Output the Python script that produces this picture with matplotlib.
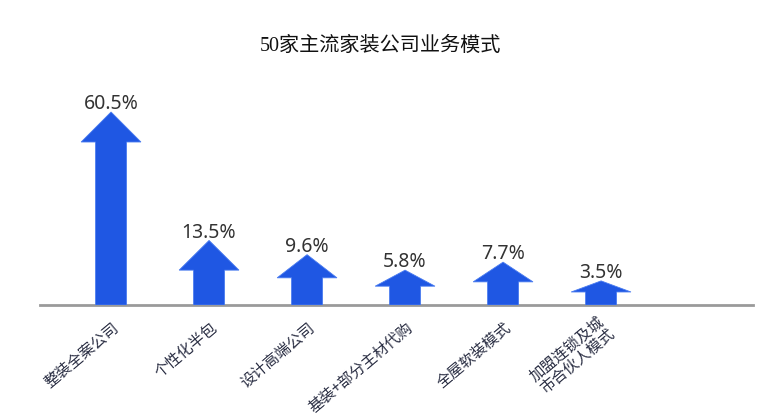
import numpy as np
import matplotlib
matplotlib.use("Agg")
import matplotlib.pyplot as plt
from matplotlib.patches import Polygon
import matplotlib.transforms as mtransforms

categories = ["整装全案公司", "个性化半包", "设计高端公司", "基装+部分主材代购", "全屋软装模式", "加盟连锁及城\n市合伙人模式"]
values = [60.5, 13.5, 9.6, 5.8, 7.7, 3.5]
value_labels = ["60.5%", "13.5%", "9.6%", "5.8%", "7.7%", "3.5%"]
title = "50家主流家装公司业务模式"

P = 0.73  # power scale exponent
fwd = lambda y: np.sign(y) * np.abs(y) ** P
inv = lambda t: np.sign(t) * np.abs(t) ** (1.0 / P)

fig = plt.figure(figsize=(7.68, 4.2), dpi=100)
fig.patch.set_facecolor("white")
ax_left, ax_right = 40 / 768, 753 / 768
ax_bottom, ax_top = 1 - 305 / 420, 1 - 100 / 420
ax = fig.add_axes([ax_left, ax_bottom, ax_right - ax_left, ax_top - ax_bottom])
ax.set_yscale("function", functions=(fwd, inv))

x = np.arange(len(values))
ax.set_xlim(-0.725, 6.55)
T = fwd(values[0]) * (205 / 193)
ax.set_ylim(0, inv(T))

axes_px = 205.0
shaft_w = 0.316
head_w = 0.61
blue = "#1f57e3"
for xi, v, lab in zip(x, values, value_labels):
    t_top = fwd(v)
    head_t = min(30 / axes_px * T, 0.46 * t_top)
    y_base = inv(t_top - head_t)
    verts = [
        (xi - shaft_w / 2, 0), (xi - shaft_w / 2, y_base), (xi - head_w / 2, y_base),
        (xi, v), (xi + head_w / 2, y_base), (xi + shaft_w / 2, y_base),
        (xi + shaft_w / 2, 0),
    ]
    ax.add_patch(Polygon(verts, closed=True, facecolor=blue, edgecolor="#4a7cf0",
                         linewidth=0.6, zorder=3))
    ax.annotate(lab, (xi, v), xytext=(0, 2), textcoords="offset points",
                ha="center", va="baseline", fontsize=14, color="#333333",
                family=["Noto Sans", "DejaVu Sans"], zorder=4)

for s in ["top", "right", "left"]:
    ax.spines[s].set_visible(False)
ax.spines["bottom"].set_color("#9a9a9a")
ax.spines["bottom"].set_linewidth(2)
ax.spines["bottom"].set_zorder(2)
ax.set_yticks([])
ax.yaxis.set_minor_locator(matplotlib.ticker.NullLocator())
ax.set_xticks(x)
ax.set_xticklabels(categories, rotation=40, ha="right", va="center",
                   rotation_mode="anchor", fontsize=11, color="#2b2f44",
                   family=["Noto Sans CJK SC", "DejaVu Sans"], linespacing=1.0)
ax.tick_params(axis="x", length=0, pad=15)
offset = mtransforms.ScaledTranslation(6 / 100, 0, fig.dpi_scale_trans)
for i, tl in enumerate(ax.get_xticklabels()):
    tl.set_transform(tl.get_transform() + offset)
    if "\n" in tl.get_text():
        tl.set_multialignment("center")

fig.text(380 / 768, 1 - 46 / 420, title, ha="center", va="center", fontsize=14.5,
         color="#111111", family=["Liberation Serif", "Noto Sans CJK SC"])

fig.savefig("out.png", dpi=100, facecolor="white")
